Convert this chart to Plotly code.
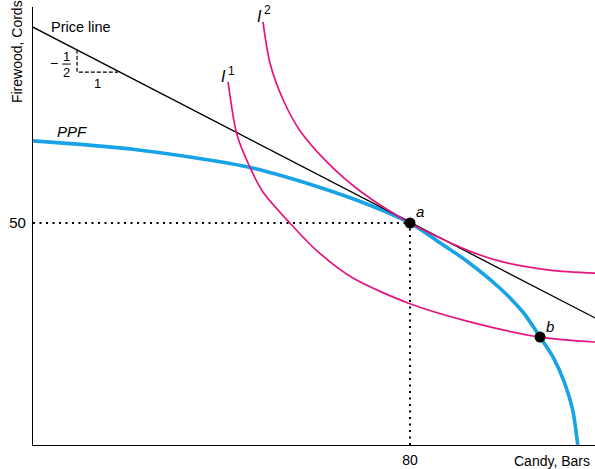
import plotly.graph_objects as go

# ---- data ----
ppf_candy = [0, 21.2, 45.6, 60.9, 71.5, 80, 86.0, 92.1, 99.1, 104.0, 107.6, 110.5, 112.8, 114.5, 115.6]
ppf_firewood = [68.5, 66.6, 62.6, 58.0, 54.0, 50, 45.8, 41.4, 35.3, 29.9, 24.3, 19.5, 14.0, 8.0, 0]

i2_candy = [48.8, 50.3, 53.1, 56.7, 62.4, 69.4, 80, 92.1, 99.1, 109.7, 119.3]
i2_firewood = [95.3, 86.0, 77.7, 70.7, 63.7, 57.2, 50, 43.9, 41.4, 39.4, 38.7]

i1_candy = [41.4, 43.3, 46.1, 48.8, 54.5, 60.5, 67.9, 80, 92.1, 107.6, 119.3]
i1_firewood = [81.8, 69.8, 62.4, 57.0, 50.0, 43.5, 37.6, 31.8, 27.9, 24.3, 23.2]

price_candy = [0, 119.3]
price_firewood = [94.1, 28.6]

slope_tri_candy = [9.34, 9.34, 18.04]
slope_tri_firewood = [89.0, 84.0, 84.0]

point_labels = ["a", "b"]
point_candy = [80, 107.6]
point_firewood = [50, 24.3]

x_tick_vals = [80]
x_tick_text = ["80"]
y_tick_vals = [50]
y_tick_text = ["50"]

BLUE = "#17A3E6"
MAGENTA = "#E5157F"
FONT = "Liberation Sans, Arial, sans-serif"

fig = go.Figure()

fig.add_trace(go.Scatter(x=ppf_candy, y=ppf_firewood, mode="lines",
                         line=dict(color=BLUE, width=3.6, shape="spline", smoothing=0.8)))
fig.add_trace(go.Scatter(x=price_candy, y=price_firewood, mode="lines",
                         line=dict(color="black", width=1.3)))
fig.add_trace(go.Scatter(x=i1_candy, y=i1_firewood, mode="lines",
                         line=dict(color=MAGENTA, width=1.7, shape="spline", smoothing=0.8)))
fig.add_trace(go.Scatter(x=i2_candy, y=i2_firewood, mode="lines",
                         line=dict(color=MAGENTA, width=1.7, shape="spline", smoothing=0.8)))

# slope triangle
fig.add_trace(go.Scatter(x=slope_tri_candy, y=slope_tri_firewood, mode="lines",
                         line=dict(color="black", width=1.2, dash="4px,2px")))

# dotted guides to point a
fig.add_trace(go.Scatter(x=[0, point_candy[0]], y=[point_firewood[0], point_firewood[0]], mode="lines",
                         line=dict(color="black", width=2, dash="2px,4.5px")))
fig.add_trace(go.Scatter(x=[point_candy[0], point_candy[0]], y=[0, point_firewood[0]], mode="lines",
                         line=dict(color="black", width=2, dash="2px,4.5px")))

fig.add_trace(go.Scatter(x=point_candy, y=point_firewood, mode="markers",
                         marker=dict(color="black", size=11), cliponaxis=False))

ann = []
def add_text(x, y, text, size=14.5, xanchor="center", yanchor="middle", **kw):
    ann.append(dict(x=x, y=y, text=text, showarrow=False, xanchor=xanchor, yanchor=yanchor,
                    font=dict(family=FONT, size=size, color="black"), **kw))

add_text(point_candy[0] + 2.1, point_firewood[0] + 2.6, "<i>a</i>", size=15)
add_text(point_candy[1] + 2.1, point_firewood[1] + 2.4, "<i>b</i>", size=15)
add_text(8.3, 70.7, "<i>PPF</i>", size=15)
add_text(47.96, 96.4, "<i>I</i>", size=16)
add_text(49.8, 97.9, "2", size=12)
add_text(40.5, 82.9, "<i>I</i>", size=16)
add_text(42.1, 84.3, "1", size=12)
add_text(3.5, 94.1, "Price line", size=14.5, xanchor="left")
add_text(4.4, 86.0, "−", size=14)
add_text(7.1, 87.6, "1", size=13)
add_text(7.1, 83.9, "2", size=13)
add_text(13.6, 81.5, "1", size=13)
add_text(110.2, 0, "Candy, Bars", size=14, yanchor="top", yshift=-6)
ann.append(dict(x=0, xref="paper", y=88.5, yref="y", text="Firewood, Cords", textangle=-90,
                showarrow=False, xanchor="center", yanchor="middle", xshift=-16,
                font=dict(family=FONT, size=14, color="black")))

fig.add_shape(type="line", x0=6.2, x1=8.0, y0=85.8, y1=85.8, line=dict(color="black", width=1))

fig.update_layout(
    width=595, height=469,
    margin=dict(l=33, r=0, t=7, b=24, autoexpand=False),
    paper_bgcolor="white", plot_bgcolor="white",
    showlegend=False,
    annotations=ann,
    font=dict(family=FONT, size=14, color="black"),
    xaxis=dict(range=[0, 119.26], showgrid=False, zeroline=False, showline=True, automargin=False,
               linecolor="black", linewidth=1.2, tickvals=x_tick_vals, ticktext=x_tick_text,
               ticks="", ticklabelstandoff=2, tickfont=dict(family=FONT, size=14, color="black")),
    yaxis=dict(range=[0, 98.65], showgrid=False, zeroline=False, showline=True, automargin=False,
               linecolor="black", linewidth=1.2, tickvals=y_tick_vals, ticktext=y_tick_text,
               ticks="", ticklabelstandoff=3, tickfont=dict(family=FONT, size=15, color="black")),
)

# remove the default 8px page margin so the figure sits at the window's top-left corner
fig.write_html("out.html", config={"displayModeBar": False},
               post_script="document.body.style.margin='0px';")
